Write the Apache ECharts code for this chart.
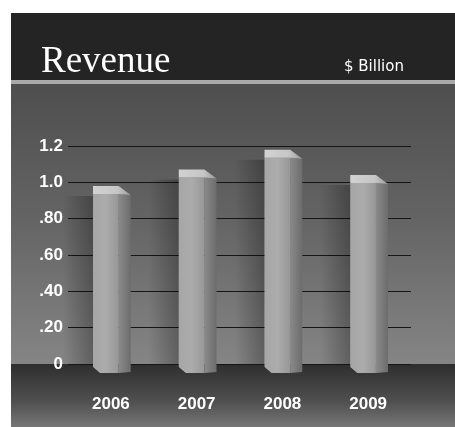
<!DOCTYPE html>
<html>
<head>
<meta charset="utf-8">
<title>Revenue</title>
<script src="https://cdn.jsdelivr.net/npm/echarts@6/dist/echarts.min.js"></script>
<style>
  html, body { margin: 0; padding: 0; background: #ffffff; }
  #chart { width: 455px; height: 427px; }
</style>
</head>
<body>
<div id="chart"></div>
<script>
// Revenue by year, $ billion
var years = ['2006', '2007', '2008', '2009'];
var revenue = [0.98, 1.07, 1.18, 1.04];
var yTickLabels = ['0', '.20', '.40', '.60', '.80', '1.0', '1.2'];

var chart = echarts.init(document.getElementById('chart'), null, { renderer: 'canvas' });

var GRID = { left: 68, right: 44, top: 146, bottom: 63 };

// 3D-looking column: cap, lit front face, darker side face, soft shadow on the wall
function renderColumn(params, api) {
  var top = api.coord([api.value(0), api.value(1)]);
  var base = api.coord([api.value(0), 0]);
  var band = api.size([1, 0])[0];
  var cx = top[0];
  var yv = top[1];
  var y0 = base[1];
  var w = band * 0.44;          // total visible width
  var fw = w * 0.68;            // front face width
  var xl = cx - w / 2 + 1;
  var xf = xl + fw;
  var xr = xl + w;
  return {
    type: 'group',
    children: [
      {
        type: 'rect',
        shape: { x: xl - 30, y: yv + 10, width: 30, height: y0 - yv - 10 },
        style: {
          fill: new echarts.graphic.LinearGradient(0, 0, 1, 0, [
            { offset: 0, color: 'rgba(0,0,0,0)' },
            { offset: 1, color: 'rgba(0,0,0,0.28)' }
          ])
        }
      },
      {
        type: 'polygon',
        shape: { points: [[xf, yv + 8], [xr, yv + 9], [xr, y0 + 8], [xf, y0 + 9]] },
        style: {
          fill: new echarts.graphic.LinearGradient(0, 0, 1, 0, [
            { offset: 0, color: '#8a8a8a' },
            { offset: 1, color: '#6c6c6c' }
          ])
        }
      },
      {
        type: 'polygon',
        shape: { points: [[xl, yv + 8], [xf, yv + 8], [xf, y0 + 9], [xl + 7, y0 + 9], [xl, y0 + 3]] },
        style: {
          fill: new echarts.graphic.LinearGradient(0, 0, 1, 0, [
            { offset: 0, color: '#a6a6a6' },
            { offset: 0.5, color: '#acacac' },
            { offset: 1, color: '#979797' }
          ])
        }
      },
      {
        type: 'polygon',
        shape: { points: [[xl, yv], [xf, yv], [xr, yv + 9], [xf, yv + 8], [xl, yv + 8]] },
        style: {
          fill: new echarts.graphic.LinearGradient(0, 0, 1, 0, [
            { offset: 0, color: '#d2d2d2' },
            { offset: 0.65, color: '#c6c6c6' },
            { offset: 1, color: '#9a9a9a' }
          ])
        }
      }
    ]
  };
}

var option = {
  backgroundColor: '#ffffff',
  animation: false,
  grid: GRID,
  xAxis: {
    type: 'category',
    data: years,
    axisLine: { show: false },
    axisTick: { show: false },
    axisLabel: {
      color: '#ffffff',
      fontFamily: 'Liberation Sans, Arial, sans-serif',
      fontWeight: 'bold',
      fontSize: 17,
      margin: 32,
      formatter: function (v) { return v; }
    }
  },
  yAxis: {
    type: 'value',
    min: 0,
    max: 1.2,
    interval: 0.2,
    axisLine: { show: false },
    axisTick: { show: false },
    splitLine: { lineStyle: { color: '#161616', width: 1.2 } },
    axisLabel: {
      color: '#ffffff',
      fontFamily: 'Liberation Sans, Arial, sans-serif',
      fontWeight: 'bold',
      fontSize: 17,
      margin: 5,
      formatter: function (v) {
        return yTickLabels[Math.round(v / 0.2)];
      }
    }
  },
  series: [{
    type: 'custom',
    renderItem: renderColumn,
    data: years.map(function (y, i) { return [i, revenue[i]]; }),
    encode: { x: 0, y: 1 },
    z: 3
  }]
};

chart.setOption(option);

// Panel backdrop: header band, divider, wall and floor meeting at the zero line
var y0 = chart.convertToPixel({ yAxisIndex: 0 }, 0);
chart.setOption({
  graphic: [
    {
      type: 'rect', z: -10, silent: true,
      shape: { x: 11, y: 13, width: 444, height: 68 },
      style: { fill: '#242424' }
    },
    {
      type: 'rect', z: -10, silent: true,
      shape: { x: 11, y: 80, width: 444, height: 4 },
      style: { fill: '#a9a9a9' }
    },
    {
      type: 'rect', z: -10, silent: true,
      shape: { x: 11, y: 84, width: 444, height: y0 - 84 },
      style: {
        fill: new echarts.graphic.LinearGradient(0, 0, 0, 1, [
          { offset: 0, color: '#4e4e4e' },
          { offset: 0.5, color: '#656565' },
          { offset: 1, color: '#858585' }
        ])
      }
    },
    {
      type: 'rect', z: -10, silent: true,
      shape: { x: 11, y: y0, width: 444, height: 427 - y0 },
      style: {
        fill: new echarts.graphic.LinearGradient(0, 0, 0, 1, [
          { offset: 0, color: '#2e2e2e' },
          { offset: 0.6, color: '#505050' },
          { offset: 1, color: '#767676' }
        ])
      }
    },
    {
      type: 'text', z: 5, silent: true,
      left: 41, top: 44,
      style: {
        text: 'Revenue',
        fill: '#ffffff',
        font: '37px "Liberation Serif", "Times New Roman", serif'
      }
    },
    {
      type: 'text', z: 5, silent: true,
      left: 344, top: 60,
      style: {
        text: '$ Billion',
        fill: '#ffffff',
        font: '15px "DejaVu Sans", sans-serif'
      }
    }
  ]
});
</script>
</body>
</html>
